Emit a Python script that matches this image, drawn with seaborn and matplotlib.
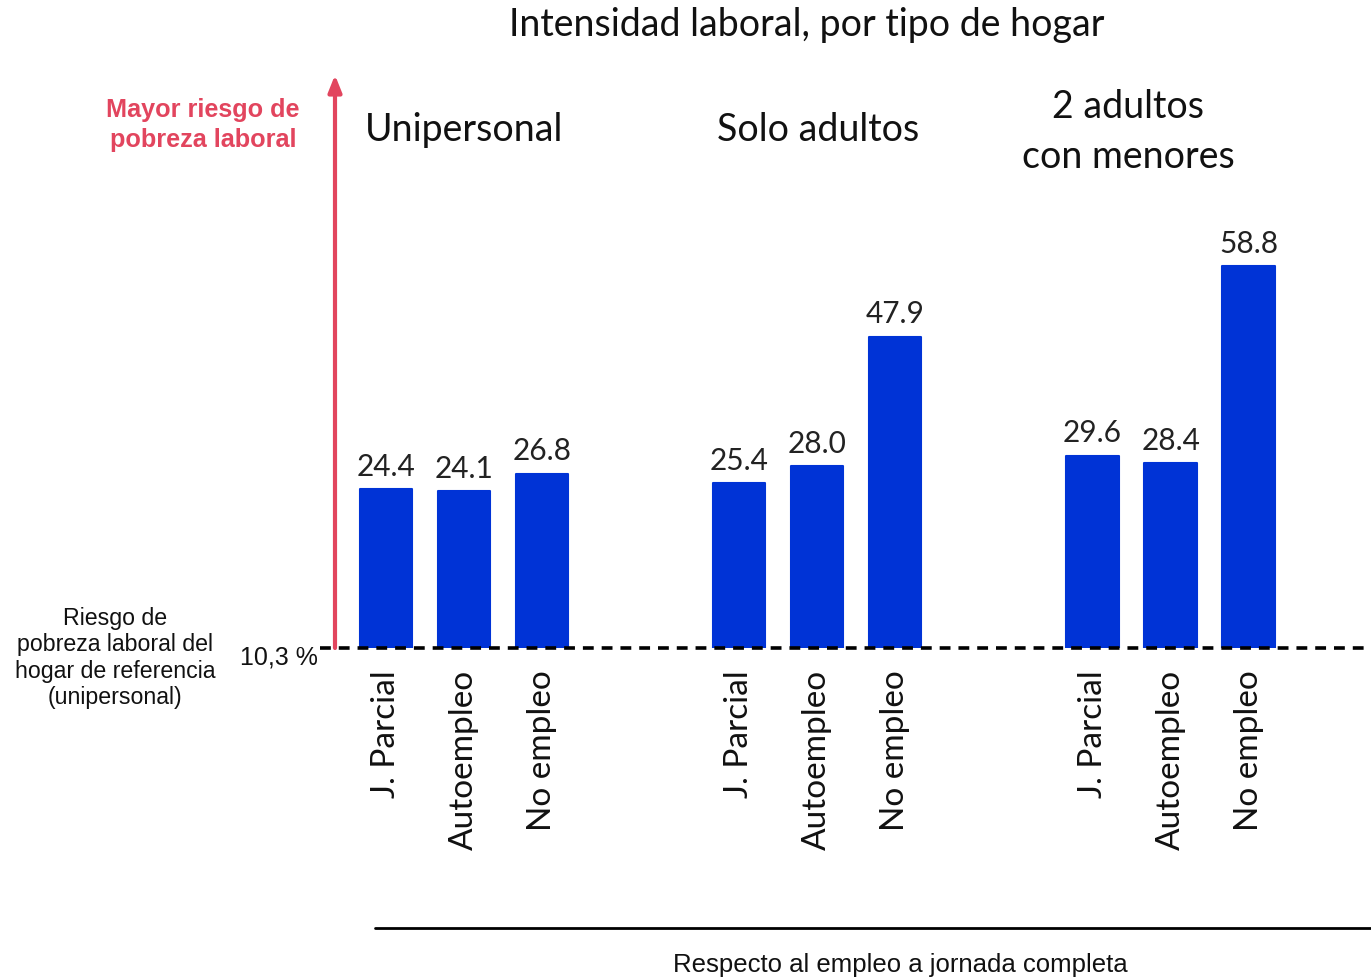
import pandas as pd
import matplotlib.pyplot as plt
import seaborn as sns

sns.set_style("white")
plt.rcParams['font.family'] = ['Lato', 'DejaVu Sans']

# datos
grupos = ["Unipersonal", "Solo adultos", "2 adultos\ncon menores"]
tipos = ["J. Parcial", "Autoempleo", "No empleo"]
unipersonal = [24.4, 24.1, 26.8]
solo_adultos = [25.4, 28.0, 47.9]
adultos_menores = [29.6, 28.4, 58.8]

valores = [unipersonal, solo_adultos, adultos_menores]
filas = []
for g, vals in enumerate(valores):
    for i, v in enumerate(vals):
        filas.append({"grupo": grupos[g], "tipo": tipos[i], "pos": g * 4.53 + i, "valor": v})
df = pd.DataFrame(filas)

azul = "#0033D6"
rojo = "#E2455E"

fig = plt.figure(figsize=(13.71, 9.77), dpi=100)
ax = fig.add_axes([335 / 1371, 1 - 648 / 977, 1036 / 1371, 573 / 977])

sns.barplot(data=df, x="pos", y="valor", native_scale=True, width=0.67,
            color=azul, saturation=1, errorbar=None, ax=ax,
            edgecolor=azul, linewidth=1.5)
for p in ax.patches:
    p.set_joinstyle("round")

ax.set_xlim(-0.654, 12.63)
ax.set_ylim(0, 88.2)

# etiquetas de valor
for _, r in df.iterrows():
    ax.text(r["pos"], r["valor"] + 1.3, f"{r['valor']:.1f}", ha="center", va="bottom",
            fontsize=21.5, color="#222222")

# etiquetas de tipo (rotadas)
ax.set_xticks(df["pos"])
ax.set_xticklabels(df["tipo"], rotation=90, fontsize=24, color="#111111")
ax.tick_params(axis="x", length=0, pad=16)
ax.set_yticks([])
ax.set_xlabel("")
ax.set_ylabel("")
for s in ax.spines.values():
    s.set_visible(False)

# linea de referencia punteada
ax.axhline(0, xmin=-0.0145, xmax=1, color="black", linestyle=(0, (3, 2.2)), lw=2.6, clip_on=False)

# flecha roja
ax.annotate("", xy=(0, 1.0), xytext=(0, 0), xycoords="axes fraction",
            arrowprops=dict(arrowstyle="-|>,head_length=1.0,head_width=0.4", color=rojo, lw=3,
                            shrinkA=0, shrinkB=0))

# textos de grupo
fig.text(464 / 1371, 1 - 130 / 977, grupos[0], ha="center", va="center", fontsize=27, color="#111111")
fig.text(818 / 1371, 1 - 130 / 977, grupos[1], ha="center", va="center", fontsize=27, color="#111111")
fig.text(1128 / 1371, 1 - 132 / 977, grupos[2], ha="center", va="center", fontsize=27, color="#111111",
         linespacing=1.45)

fig.text(807 / 1371, 1 - 25 / 977, "Intensidad laboral, por tipo de hogar", ha="center", va="center",
         fontsize=27, color="#111111")

fig.text(203 / 1371, 1 - 125 / 977, "Mayor riesgo de\npobreza laboral", ha="center", va="center",
         fontsize=18.2, fontweight="bold", color=rojo, family="Liberation Sans", linespacing=1.35)

fig.text(115 / 1371, 1 - 658 / 977, "Riesgo de\npobreza laboral del\nhogar de referencia\n(unipersonal)",
         ha="center", va="center", fontsize=16.7, color="#111111", family="Liberation Sans", linespacing=1.2)

fig.text(318 / 1371, 1 - 658 / 977, "10,3 %", ha="right", va="center", fontsize=18, color="#111111",
         family="Liberation Sans")

# linea inferior y nota
fig.add_artist(plt.Line2D([375 / 1371, 1], [1 - 928 / 977, 1 - 928 / 977], color="black", lw=2))
fig.text(900 / 1371, 1 - 965 / 977, "Respecto al empleo a jornada completa", ha="center", va="center",
         fontsize=18.5, color="#111111", family="Liberation Sans")

fig.savefig("out.png", dpi=100)
